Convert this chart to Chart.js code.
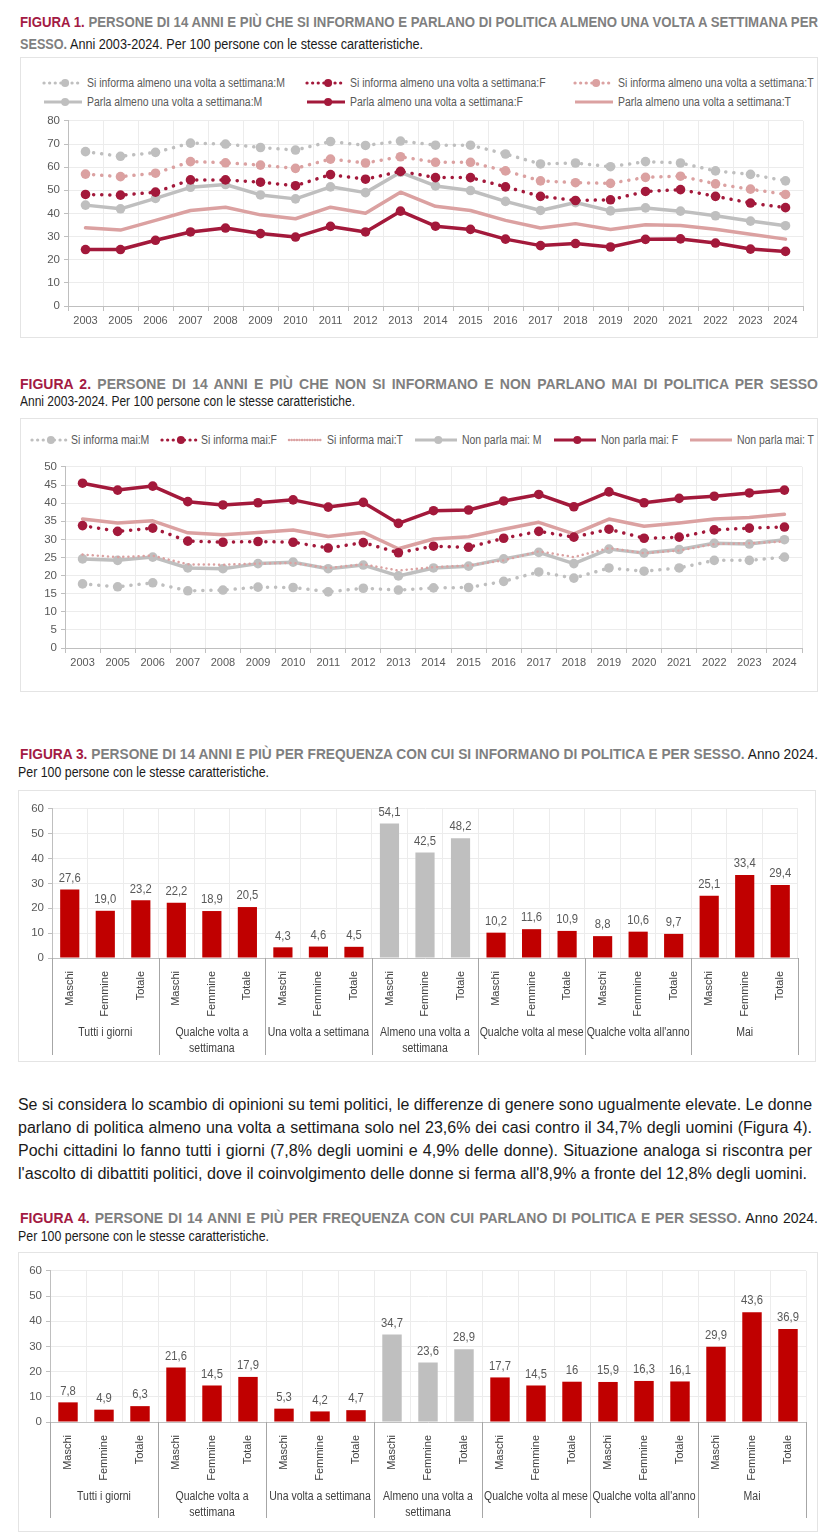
<!DOCTYPE html>
<html>
<head>
<meta charset="utf-8">
<script src="https://cdn.jsdelivr.net/npm/chart.js@4.4.0/dist/chart.umd.min.js"></script>
<style>
  body { margin: 0; background: #fff; width: 828px; height: 1536px; position: relative; overflow: hidden;
         font-family: 'Liberation Sans Narrow', 'Arial Narrow', 'Liberation Sans', Arial, sans-serif; }
  .ln { position: absolute; white-space: nowrap; line-height: 18px; font-size: 14px; }
  .ln > span { display: inline-block; transform-origin: 0 50%; }
  .p { font-size: 16px; line-height: 20px; color: #1a1a1a; }
  .red { color: #a31a43; font-weight: bold; }
  .gry { color: #7f7f7f; font-weight: bold; }
  .blk { color: #1a1a1a; }
  .box { position: absolute; border: 1px solid #e4e4e4; box-sizing: border-box; }
  .cv { position: absolute; }
  .lgrow { position: absolute; display: flex; align-items: center; height: 14px; }
  .lg { font-size: 12px; color: #595959; white-space: nowrap; display: flex; align-items: center; height: 14px; flex: none; }
  .lg svg { margin-right: 3px; flex: none; }
  .lg span { display: inline-block; transform-origin: 0 50%; }
</style>
</head>
<body>

<div class="ln" style="left:20px;top:13px" data-w="798" data-j="1"><span><span class="red">FIGURA 1.</span> <span class="gry">PERSONE DI 14 ANNI E PIÙ CHE SI INFORMANO E PARLANO DI POLITICA ALMENO UNA VOLTA A SETTIMANA PER</span></span></div>
<div class="ln" style="left:20px;top:35px" data-w="403" data-fit="1"><span><span class="gry">SESSO.</span> <span class="blk">Anni 2003-2024. Per 100 persone con le stesse caratteristiche.</span></span></div>
<div class="box" style="left:20px;top:57px;width:798px;height:281px"></div>
<div id="lg1"></div>
<div class="cv" style="left:20px;top:110px;width:798px;height:228px"><canvas id="c1"></canvas></div>

<div class="ln" style="left:20px;top:375px" data-w="798" data-j="1"><span><span class="red">FIGURA 2.</span> <span class="gry">PERSONE DI 14 ANNI E PIÙ CHE NON SI INFORMANO E NON PARLANO MAI DI POLITICA PER SESSO</span></span></div>
<div class="ln" style="left:20px;top:392px" data-w="335" data-fit="1"><span><span class="blk">Anni 2003-2024. Per 100 persone con le stesse caratteristiche.</span></span></div>
<div class="box" style="left:20px;top:418px;width:798px;height:274px"></div>
<div id="lg2"></div>
<div class="cv" style="left:20px;top:456px;width:798px;height:234px"><canvas id="c2"></canvas></div>

<div class="ln" style="left:20px;top:745px" data-w="798" data-j="1"><span><span class="red">FIGURA 3.</span> <span class="gry">PERSONE DI 14 ANNI E PIÙ PER FREQUENZA CON CUI SI INFORMANO DI POLITICA E PER SESSO.</span> <span class="blk">Anno 2024.</span></span></div>
<div class="ln" style="left:18px;top:763px" data-w="251" data-fit="1"><span><span class="blk">Per 100 persone con le stesse caratteristiche.</span></span></div>
<div class="box" style="left:18px;top:790px;width:798px;height:272px"></div>
<div class="cv" style="left:18px;top:798px;width:798px;height:264px"><canvas id="c3"></canvas></div>

<div class="ln p" style="left:18px;top:1095px" data-w="794" data-j="1"><span>Se si considera lo scambio di opinioni su temi politici, le differenze di genere sono ugualmente elevate. Le donne</span></div>
<div class="ln p" style="left:18px;top:1118px" data-w="794" data-j="1"><span>parlano di politica almeno una volta a settimana solo nel 23,6% dei casi contro il 34,7% degli uomini (Figura 4).</span></div>
<div class="ln p" style="left:18px;top:1141px" data-w="794" data-j="1"><span>Pochi cittadini lo fanno tutti i giorni (7,8% degli uomini e 4,9% delle donne). Situazione analoga si riscontra per</span></div>
<div class="ln p" style="left:18px;top:1164px" data-w="789" data-fit="1"><span>l'ascolto di dibattiti politici, dove il coinvolgimento delle donne si ferma all'8,9% a fronte del 12,8% degli uomini.</span></div>

<div class="ln" style="left:20px;top:1209px" data-w="798" data-j="1"><span><span class="red">FIGURA 4.</span> <span class="gry">PERSONE DI 14 ANNI E PIÙ PER FREQUENZA CON CUI PARLANO DI POLITICA E PER SESSO.</span> <span class="blk">Anno 2024.</span></span></div>
<div class="ln" style="left:18px;top:1227px" data-w="251" data-fit="1"><span><span class="blk">Per 100 persone con le stesse caratteristiche.</span></span></div>
<div class="box" style="left:18px;top:1252px;width:800px;height:280px"></div>
<div class="cv" style="left:18px;top:1260px;width:800px;height:272px"><canvas id="c4"></canvas></div>

<script>
// ---- dati ----
const years = ['2003','2005','2006','2007','2008','2009','2010','2011','2012','2013','2014',
               '2015','2016','2017','2018','2019','2020','2021','2022','2023','2024'];

// Figura 1
const informaM = [66.7,64.7,66.4,70.4,70.0,68.5,67.4,71.1,69.4,71.3,69.5,69.5,65.7,61.4,61.8,60.2,62.4,61.8,58.4,56.9,54.1];
const informaF = [48.2,47.9,49.2,54.5,54.5,53.5,52.0,56.8,54.8,58.2,55.5,55.5,51.5,47.4,45.6,45.9,49.5,50.3,47.4,44.5,42.5];
const informaT = [57.0,55.9,57.4,62.4,61.9,60.9,59.5,63.5,61.8,64.5,62.1,62.1,58.4,54.1,53.3,53.0,55.6,56.1,52.8,50.5,48.2];
const parlaM   = [43.6,42.0,46.5,51.3,52.5,48.0,46.3,51.5,49.0,57.8,51.9,49.9,45.2,41.3,44.7,41.1,42.4,41.0,39.0,36.7,34.7];
const parlaF   = [24.4,24.4,28.4,32.0,33.7,31.3,29.8,34.4,32.0,41.0,34.5,33.1,28.9,26.1,27.0,25.5,28.8,29.0,27.2,24.6,23.6];
const parlaT   = [33.8,32.8,37.0,41.3,42.7,39.4,37.7,42.7,40.1,49.2,43.1,41.3,37.0,33.7,35.6,33.1,35.1,34.8,33.2,31.0,28.9];

// Figura 2
const maiInfM = [17.7,16.9,18.0,15.8,16.0,16.8,16.7,15.5,16.5,16.0,16.6,16.7,18.4,21.0,19.3,22.1,21.2,22.1,24.2,24.2,25.1];
const maiInfF = [33.8,32.2,33.1,29.5,29.2,29.4,29.2,27.6,29.1,26.3,28.1,27.8,30.3,32.2,30.6,32.8,30.3,30.6,32.6,33.1,33.4];
const maiInfT = [25.8,25.1,25.5,23.1,23.0,23.3,23.5,22.1,23.1,21.4,22.3,22.8,24.2,26.7,25.1,27.6,26.2,26.9,28.7,28.9,29.4];
const maiParM = [24.6,24.2,25.1,22.1,21.9,23.3,23.7,21.9,22.9,19.9,22.1,22.6,24.6,26.4,23.3,27.3,26.2,27.2,28.9,28.7,29.9];
const maiParF = [45.5,43.6,44.7,40.4,39.5,40.1,40.9,38.9,40.2,34.4,37.9,38.1,40.6,42.4,39.0,43.1,40.1,41.3,41.9,42.8,43.6];
const maiParT = [35.6,34.5,35.1,31.8,31.3,31.9,32.6,30.8,31.9,27.4,30.1,30.7,32.8,34.7,31.5,35.6,33.6,34.5,35.6,36.0,36.9];

// Figure 3 e 4
const sessi = ['Maschi','Femmine','Totale'];
const frequenze = [['Tutti i giorni'], ['Qualche volta a','settimana'], ['Una volta a settimana'],
                   ['Almeno una volta a','settimana'], ['Qualche volta al mese'], ["Qualche volta all'anno"], ['Mai']];
const informaFreq = [27.6,19.0,23.2, 22.2,18.9,20.5, 4.3,4.6,4.5, 54.1,42.5,48.2, 10.2,11.6,10.9, 8.8,10.6,9.7, 25.1,33.4,29.4];
const parlaFreq   = [7.8,4.9,6.3, 21.6,14.5,17.9, 5.3,4.2,4.7, 34.7,23.6,28.9, 17.7,14.5,16, 15.9,16.3,16.1, 29.9,43.6,36.9];

// ---- stile ----
const FONT = "'Liberation Sans Narrow','Arial Narrow','Liberation Sans',Arial,sans-serif";
const GREY = '#bfbfbf', DARK = '#a3193b', PINK = '#dba1a1', RED = '#c00000';
const HIGHLIGHT = 3; // "Almeno una volta a settimana" in grigio
const NARROW = 0.84; // compressione orizzontale del testo (manca un font narrow)

Chart.defaults.font.family = FONT;
Chart.defaults.color = '#595959';

function serie(label, data, color, dot, points, lw) {
    return { label, data, color, dot, points, lw };
}

function toDataset(s) {
    return {
        label: s.label, data: s.data,
        borderColor: s.color, backgroundColor: s.color, borderWidth: s.lw,
        borderDash: s.dot ? [0.1, s.dot] : [], borderCapStyle: 'round', borderJoinStyle: 'round',
        pointRadius: s.points ? 4.8 : 0, pointHoverRadius: 0, pointBorderWidth: 0,
        pointBackgroundColor: s.color, tension: 0, fill: false
    };
}

function sampleSvg(s, w) {
    const dash = s.dot ? `stroke-dasharray="0.1 ${s.dot - 2.5}" stroke-linecap="round"` : '';
    const dot = s.points ? `<circle cx="${w * 0.55}" cy="6" r="4" fill="${s.color}"/>` : '';
    return `<svg width="${w}" height="12"><line x1="2" y1="6" x2="${w - 2}" y2="6" stroke="${s.color}" stroke-width="${Math.min(s.lw, 3.2)}" ${dash}/>${dot}</svg>`;
}

function legendItem(s, w) {
    return `<div class="lg">${sampleSvg(s, w)}<span>${s.label}</span></div>`;
}

// comprime il testo della legenda e ne riduce la larghezza di layout
function squeeze(root, k) {
    root.querySelectorAll('.lg span').forEach(sp => {
        const nat = sp.getBoundingClientRect().width;
        sp.style.transform = `scaleX(${k})`;
        sp.style.width = (nat * k) + 'px';
    });
}

// legenda a colonne fisse
function buildLegendGrid(id, series, cols, rows, w) {
    const el = document.getElementById(id);
    el.innerHTML = series.map((s, i) =>
        `<div class="lgrow" style="left:${cols[i % cols.length]}px;top:${rows[Math.floor(i / cols.length)] - 7}px">${legendItem(s, w)}</div>`
    ).join('');
    squeeze(el, NARROW + 0.03);
}

// legenda su una riga distribuita tra x0 e x1
function buildLegendRow(id, series, x0, x1, y, widths) {
    const el = document.getElementById(id);
    el.innerHTML = `<div class="lgrow" style="left:${x0}px;top:${y - 7}px">` +
        series.map((s, i) => legendItem(s, widths[i])).join('') + '</div>';
    squeeze(el, NARROW + 0.03);
    const items = [...el.querySelectorAll('.lg')];
    const total = items.reduce((a, it) => a + it.getBoundingClientRect().width, 0);
    const gap = (x1 - x0 - total) / (items.length - 1);
    items.forEach((it, i) => { if (i < items.length - 1) it.style.marginRight = gap + 'px'; });
}

// testo compresso sul canvas
function narrowText(ctx, text, x, y, k) {
    ctx.save();
    ctx.translate(x, y);
    ctx.scale(k, 1);
    ctx.fillText(text, 0, 0);
    ctx.restore();
}

function makeLine(id, series, o) {
    return new Chart(document.getElementById(id), {
        type: 'line',
        data: { labels: years, datasets: series.map(toDataset) },
        options: {
            responsive: true, maintainAspectRatio: false, animation: false,
            layout: { padding: { left: 0, right: o.padR, top: o.padT, bottom: 0 } },
            plugins: { legend: { display: false }, tooltip: { enabled: false } },
            scales: {
                x: {
                    offset: true,
                    grid: { offset: true, color: '#ececec', tickLength: 5, tickColor: '#bfbfbf' },
                    border: { color: '#bfbfbf' },
                    ticks: { autoSkip: false, maxRotation: 0, padding: 3, font: { size: 11 }, color: '#595959' },
                    afterFit(s) { s.height = o.xH; }
                },
                y: {
                    min: 0, max: o.max,
                    ticks: { stepSize: o.step, padding: 4, font: { size: 11.5 }, color: '#595959' },
                    grid: { color: '#ececec', tickLength: 4, tickColor: '#bfbfbf' },
                    border: { color: '#bfbfbf' },
                    afterFit(s) { s.width = o.yW; }
                }
            }
        }
    });
}

// etichette dei gruppi sotto l'asse x
const groupPlugin = {
    id: 'groups',
    afterDraw(chart, args, opts) {
        const { ctx, chartArea } = chart;
        const x = chart.scales.x;
        const step = x.getPixelForValue(1) - x.getPixelForValue(0);
        const y0 = chartArea.bottom;
        ctx.save();
        ctx.strokeStyle = '#a6a6a6';
        ctx.lineWidth = 1;
        ctx.fillStyle = '#404040';
        ctx.font = `12.5px ${FONT}`;
        ctx.textAlign = 'center';
        ctx.textBaseline = 'middle';
        let start = 0;
        opts.names.forEach((name, gi) => {
            const xl = x.getPixelForValue(start) - step / 2;
            const xr = x.getPixelForValue(start + opts.size - 1) + step / 2;
            [xl, xr].forEach(px => {
                const p = Math.round(px) + 0.5;
                ctx.beginPath(); ctx.moveTo(p, y0); ctx.lineTo(p, y0 + opts.sepLen); ctx.stroke();
            });
            name.forEach((line, li) => narrowText(ctx, line, (xl + xr) / 2, y0 + 75 + li * 16, NARROW));
            start += opts.size;
        });
        ctx.restore();
    }
};

// valori sopra le barre
const valuePlugin = {
    id: 'values',
    afterDatasetsDraw(chart, args, opts) {
        const { ctx } = chart;
        const meta = chart.getDatasetMeta(0);
        const data = chart.data.datasets[0].data;
        ctx.save();
        ctx.fillStyle = '#595959';
        ctx.font = `12.5px ${FONT}`;
        ctx.textAlign = 'center';
        ctx.textBaseline = 'bottom';
        meta.data.forEach((bar, i) => narrowText(ctx, opts.fmt(data[i]), bar.x, bar.y - 5, 0.9));
        ctx.restore();
    }
};

function makeBar(id, values, fmt, o) {
    const labels = frequenze.flatMap(() => sessi);
    const colors = frequenze.flatMap((g, gi) => sessi.map(() => gi === HIGHLIGHT ? GREY : RED));
    return new Chart(document.getElementById(id), {
        type: 'bar',
        data: { labels, datasets: [{ data: values, backgroundColor: colors, borderWidth: 0,
                                     categoryPercentage: 1, barPercentage: 0.54 }] },
        options: {
            responsive: true, maintainAspectRatio: false, animation: false,
            layout: { padding: { left: 0, right: o.padR, top: o.padT, bottom: 0 } },
            plugins: {
                legend: { display: false }, tooltip: { enabled: false },
                groups: { names: frequenze, size: sessi.length, sepLen: o.sepLen },
                values: { fmt }
            },
            scales: {
                x: {
                    grid: { color: '#ececec', drawTicks: false },
                    border: { color: '#bfbfbf' },
                    ticks: { autoSkip: false, minRotation: 90, maxRotation: 90, padding: 13,
                             font: { size: 11 }, color: '#404040' },
                    afterFit(s) { s.height = o.xH; }
                },
                y: {
                    min: 0, max: 60,
                    ticks: { stepSize: 10, padding: 4, font: { size: 11.5 }, color: '#595959' },
                    grid: { color: '#ececec', tickLength: 4, tickColor: '#bfbfbf' },
                    border: { color: '#bfbfbf' },
                    afterFit(s) { s.width = o.yW; }
                }
            }
        },
        plugins: [groupPlugin, valuePlugin]
    });
}

// ---- Figura 1 ----
const fig1 = [
    serie('Si informa almeno una volta a settimana:M', informaM, GREY, 8, true, 3.5),
    serie('Si informa almeno una volta a settimana:F', informaF, DARK, 8, true, 3.5),
    serie('Si informa almeno una volta a settimana:T', informaT, PINK, 8, true, 3.5),
    serie('Parla almeno una volta a settimana:M', parlaM, GREY, 0, true, 3.5),
    serie('Parla almeno una volta a settimana:F', parlaF, DARK, 0, true, 3.5),
    serie('Parla almeno una volta a settimana:T', parlaT, PINK, 0, false, 3.5)
];
buildLegendGrid('lg1', fig1, [42, 305, 573], [83, 102], 42);
makeLine('c1', fig1, { max: 80, step: 10, yW: 48, padR: 15, padT: 10, xH: 32 });

// ---- Figura 2 ----
const fig2 = [
    serie('Si informa mai:M', maiInfM, GREY, 8, true, 3.5),
    serie('Si informa mai:F', maiInfF, DARK, 8, true, 3.5),
    serie('Si informa mai:T', maiInfT, PINK, 5, false, 2.5),
    serie('Non parla mai: M', maiParM, GREY, 0, true, 3.5),
    serie('Non parla mai: F', maiParF, DARK, 0, true, 3.5),
    serie('Non parla mai: T', maiParT, PINK, 0, false, 3.5)
];
buildLegendRow('lg2', fig2, 30, 814, 440, [38, 38, 37, 46, 46, 46]);
makeLine('c2', fig2, { max: 50, step: 5, yW: 45, padR: 16, padT: 10, xH: 42 });

// ---- Figure 3 e 4 ----
makeBar('c3', informaFreq, v => v.toFixed(1).replace('.', ','), { yW: 34, padR: 18, padT: 10, xH: 104, sepLen: 97 });
makeBar('c4', parlaFreq, v => String(v).replace('.', ','), { yW: 32, padR: 12, padT: 10, xH: 110, sepLen: 96 });

// ---- adattamento righe di testo ----
document.querySelectorAll('.ln').forEach(el => {
    const span = el.firstElementChild;
    const w = parseFloat(el.dataset.w);
    const nat = span.getBoundingClientRect().width;
    if (nat > w || el.dataset.fit) {
        span.style.transform = `scaleX(${w / nat})`;
    } else if (el.dataset.j) {
        const spaces = (span.textContent.match(/ /g) || []).length;
        span.style.wordSpacing = ((w - nat) / spaces) + 'px';
    }
});
</script>
</body>
</html>
